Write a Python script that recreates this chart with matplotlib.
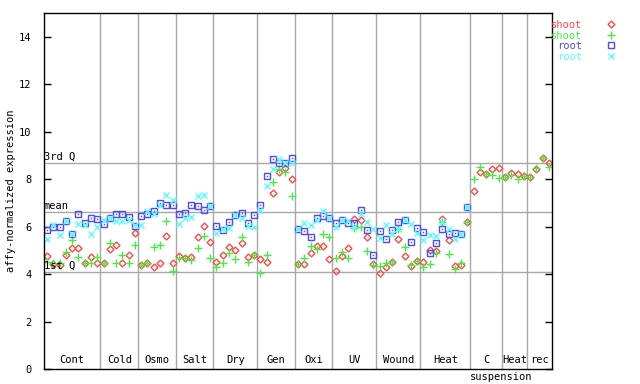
import numpy as np
import matplotlib
matplotlib.use('Agg')
import matplotlib.pyplot as plt
import matplotlib.transforms as mtransforms

plt.rcParams['font.family'] = 'DejaVu Sans Mono'
plt.rcParams['font.size'] = 7.5

# group names and number of samples in each group
groups = ['Cont', 'Cold', 'Osmo', 'Salt', 'Dry', 'Gen', 'Oxi', 'UV', 'Wound', 'Heat', 'C', 'Heat', 'rec']
counts = [9, 6, 6, 6, 7, 6, 6, 7, 7, 8, 5, 4, 4]

# shoot (red diamonds)
shoot1 = [4.75, 4.42, 4.39, 4.79, 5.10, 5.10, 4.47, 4.73, 4.45,
          4.46, 5.07, 5.24, 4.46, 4.79, 5.73,
          4.37, 4.45, 4.28, 4.46, 5.59, 4.47,
          4.75, 4.68, 4.72, 5.56, 6.04, 5.35,
          4.49, 4.82, 5.14, 5.03, 5.31, 4.72, 4.82,
          4.63, 4.49, 7.42, 8.30, 8.49, 8.01,
          4.42, 4.42, 4.89, 5.17, 5.17, 4.65,
          4.15, 4.75, 5.10, 6.32, 6.29, 5.56, 4.44,
          4.04, 4.29, 4.49, 5.49, 4.75, 4.32, 4.53,
          4.51, 5.03, 4.98, 6.34, 5.45, 4.35, 4.39, 6.20,
          7.52, 8.30, 8.22, 8.41, 8.48,
          8.10, 8.27, 8.22, 8.15,
          8.10, 8.44, 8.90, 8.69]
# shoot (green plus)
shoot2 = [4.50, 4.45, 4.45, 4.93, 5.45, 4.72, 4.47, 4.47, 4.72,
          4.46, 5.31, 4.46, 4.82, 4.46, 5.22,
          4.40, 4.45, 5.14, 5.24, 6.22, 4.11,
          4.68, 4.68, 4.60, 5.10, 5.59, 4.68,
          4.29, 4.46, 4.89, 4.63, 5.56, 4.51, 4.82,
          4.04, 4.82, 7.87, 8.44, 8.30, 7.28,
          4.42, 4.68, 5.17, 5.07, 5.69, 5.56,
          4.68, 4.91, 4.68, 5.94, 5.98, 4.98, 4.39,
          4.35, 4.46, 4.49, 5.90, 5.14, 4.37, 4.53,
          4.29, 4.42, 4.89, 6.18, 4.84, 4.21, 4.46, 6.20,
          8.01, 8.52, 8.22, 8.17, 8.05,
          8.10, 8.17, 8.01, 8.15,
          8.10, 8.48, 8.90, 8.52]
# root (blue squares)
root1 = [5.84, 5.98, 5.98, 6.25, 5.70, 6.55, 6.15, 6.37, 6.32,
         6.13, 6.37, 6.55, 6.55, 6.41, 6.04,
         6.46, 6.55, 6.65, 7.00, 6.91, 6.90,
         6.55, 6.58, 6.91, 6.88, 6.72, 6.86,
         6.04, 5.84, 6.21, 6.49, 6.58, 6.15, 6.49,
         6.91, 8.15, 8.86, 8.66, 8.66, 8.90,
         5.90, 5.83, 5.56, 6.36, 6.45, 6.36,
         6.15, 6.28, 6.15, 6.15, 6.72, 5.87, 4.80,
         5.83, 5.48, 5.87, 6.21, 6.29, 5.35, 5.94,
         5.77, 4.89, 5.31, 5.90, 5.69, 5.73, 5.69, 6.83]
# root (cyan x)
root2 = [5.49, 6.05, 5.66, 6.25, 5.70, 6.13, 6.05, 5.70, 5.98,
         6.28, 6.35, 6.25, 6.22, 6.28, 6.05,
         6.08, 6.65, 6.51, 6.93, 7.35, 7.12,
         6.13, 6.36, 6.41, 7.31, 7.35, 6.86,
         5.73, 5.90, 5.94, 6.49, 6.36, 6.04, 5.98,
         6.68, 7.70, 8.44, 8.86, 8.66, 8.66,
         5.90, 6.15, 6.08, 6.29, 6.65, 6.36,
         5.97, 6.28, 6.22, 5.98, 6.51, 6.18, 5.90,
         5.51, 6.08, 5.69, 5.90, 6.29, 6.11, 5.73,
         5.45, 5.66, 5.59, 6.20, 5.90, 5.48, 5.69, 6.83]

q1, mean, q3 = 4.09, 6.62, 8.70

red = '#ff4a4a'
green = '#44ee44'
blue = '#4a4aff'
cyan = '#55ffff'
grey = '#a8a8a8'

n = sum(counts)
fig = plt.figure(figsize=(6.4, 3.84), dpi=100)
ax = fig.add_axes([44/640, 15/384, 508/640, 356/384])

# group separators
edges = np.cumsum(counts)
for e in edges[:-1]:
    ax.axvline(e - 0.5, color=grey, lw=1, zorder=0)
for yv in [q1, mean, q3]:
    ax.axhline(yv, color=grey, lw=1, zorder=0)

trans = mtransforms.blended_transform_factory(ax.transAxes, ax.transData)
ax.text(0.0, q3 + 0.05, '3rd Q', transform=trans, va='bottom', ha='left')
ax.text(0.0, mean + 0.05, 'mean', transform=trans, va='bottom', ha='left')
ax.text(0.0, q1 + 0.05, '1st Q', transform=trans, va='bottom', ha='left')

xs = np.arange(n)
xr = np.arange(len(root1))
h1, = ax.plot(xs, shoot1, 'D', ls='none', mfc='none', mec=red, ms=3.5, mew=1)
h2, = ax.plot(xs, shoot2, '+', ls='none', color=green, ms=6, mew=1)
h3, = ax.plot(xr, root1, 's', ls='none', mfc='none', mec=blue, ms=5, mew=1)
ax.plot(xr, root1, 's', ls='none', color=blue, ms=1, mew=0)
h4, = ax.plot(xr, root2, 'x', ls='none', color=cyan, ms=5, mew=1)

ax.set_xlim(-0.5, n - 0.5)
ax.set_ylim(0, 15)
ax.set_yticks(range(0, 15, 2))
ax.set_xticks([])
ax.tick_params(axis='y', direction='in', length=5, right=True, labelright=False, width=1, pad=9)
for s in ax.spines.values():
    s.set_linewidth(1)
ax.set_ylabel('affy-normalized expression')
ax.yaxis.set_label_coords(-0.056, 0.5)

# group labels
starts = edges - np.array(counts)
for name, s, c in zip(groups, starts, counts):
    ax.text(s + c / 2 - 0.5, 0.15, name, ha='center', va='bottom')
ax.text(starts[10] - 0.6, -0.45, 'suspension', ha='left', va='baseline', clip_on=False)

leg = ax.legend([h1, h2, h3, h4], ['shoot', 'shoot', 'root', 'root'], loc='upper left',
                bbox_to_anchor=(551/640, 1 - 20/384), bbox_transform=fig.transFigure,
                frameon=False, markerfirst=False, handlelength=1, handletextpad=2.3,
                labelspacing=0.05, borderpad=0, borderaxespad=0)
for t, col in zip(leg.get_texts(), [red, green, blue, cyan]):
    t.set_color(col)

fig.savefig('out.png', dpi=100)
